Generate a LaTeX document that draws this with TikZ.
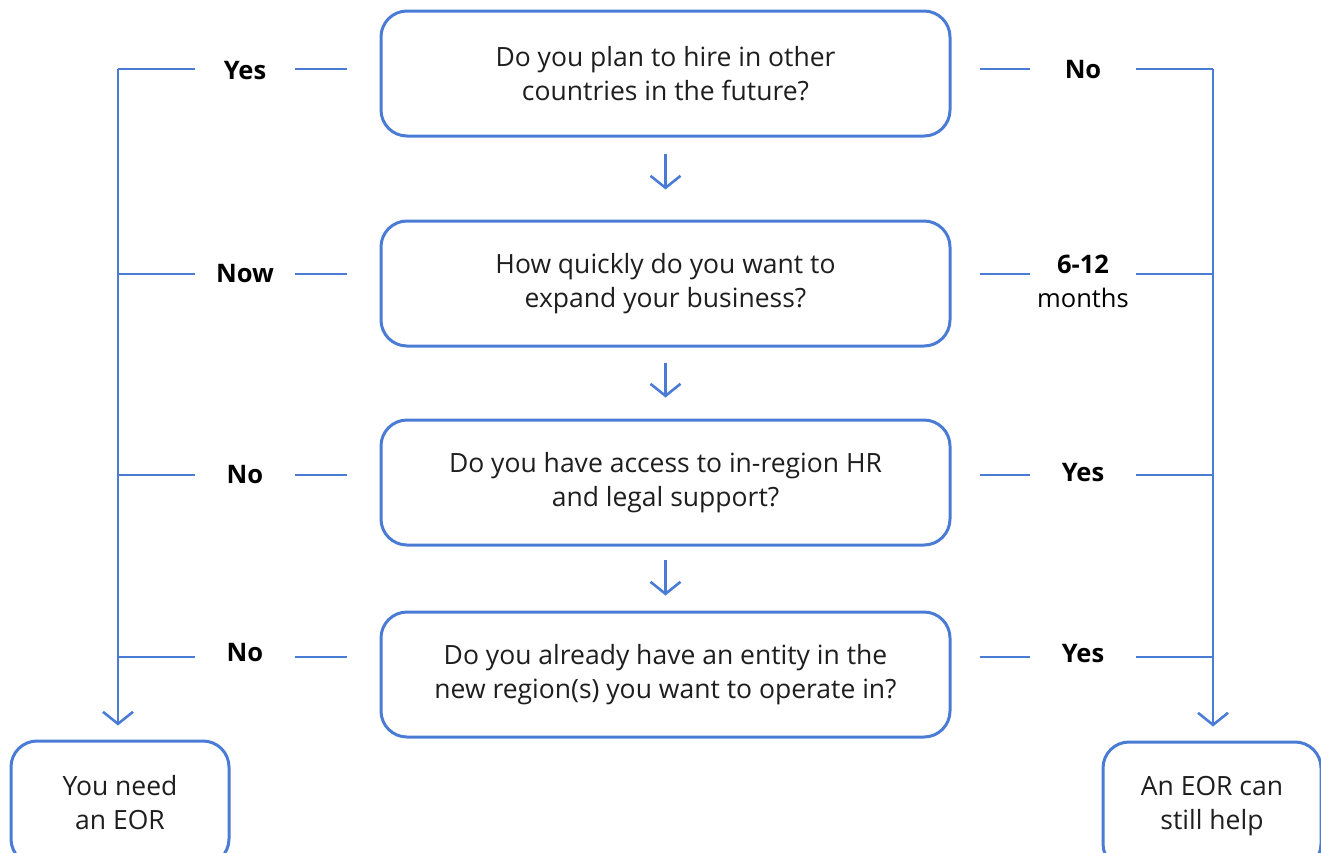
\documentclass[tikz,border=0pt]{standalone}
\usepackage{fontspec}
\setmainfont{Open Sans}
\usetikzlibrary{arrows.meta}
\definecolor{eorblue}{RGB}{74,124,214}
\definecolor{eortext}{RGB}{30,30,30}

\begin{document}
\begin{tikzpicture}[x=1pt, y=-1pt,
		box_style/.style={draw=eorblue, line width=3pt, rounded corners=26pt, fill=white, minimum width=569pt, minimum height=125pt, align=center, text=eortext, font=\fontsize{26.5}{34}\selectfont},
		end_style/.style={box_style, minimum width=218pt, minimum height=124pt},
		lab_style/.style={inner sep=0pt, minimum width=100pt, align=center, text=black, font=\fontsize{25.5}{34}\selectfont\bfseries},
		edge_style/.style={draw=eorblue, line width=2.6pt},
		arr_style/.style={edge_style, -{Straight Barb[length=12pt,width=30pt]}}]
		
		\useasboundingbox (0,0) rectangle (1321,852);
		\clip (0,0) rectangle (1321,852);
		
		\node[box_style] (q1) at (665.5,73.5)  {Do you plan to hire in other\\countries in the future?};
		\node[box_style] (q2) at (665.5,283.5) {How quickly do you want to\\expand your business?};
		\node[box_style] (q3) at (665.5,482.5) {Do you have access to in-region HR\\and legal support?};
		\node[box_style] (q4) at (665.5,674.5) {Do you already have an entity in the\\new region(s) you want to operate in?};
		\node[end_style] (need) at (120,803)  {You need\\an EOR};
		\node[end_style, minimum height=128pt] (help) at (1212,806) {An EOR can\\still help};
		
		% row coordinates
		\coordinate (lt1) at (118,69);
		\coordinate (lt2) at (118,274);
		\coordinate (lt3) at (118,475);
		\coordinate (lt4) at (118,657);
		\coordinate (rt1) at (1213,69);
		\coordinate (rt2) at (1213,274);
		\coordinate (rt3) at (1213,475);
		\coordinate (rt4) at (1213,657);
		
		\node[lab_style] (l1) at (245,71)  {Yes};
		\node[lab_style] (l2) at (245,274) {Now};
		\node[lab_style] (l3) at (245,475) {No};
		\node[lab_style] (l4) at (245,653) {No};
		\node[lab_style, minimum width=105pt] (r1) at (1083,70)  {No};
		\node[lab_style, minimum width=105pt] (r2) at (1083,281) {6-12\\\mdseries months};
		\node[lab_style, minimum width=105pt] (r3) at (1083,473) {Yes};
		\node[lab_style, minimum width=105pt] (r4) at (1083,654) {Yes};
		
		\draw[arr_style, shorten <=16pt, shorten >=30pt] (q1.south) -- (q2.north);
		\draw[arr_style, shorten <=15pt, shorten >=21pt] (q2.south) -- (q3.north);
		\draw[arr_style, shorten <=13pt, shorten >=15pt] (q3.south) -- (q4.north);
		
		\draw[edge_style] (lt1) -- (lt1 -| l1.west);
		\draw[edge_style] (lt2) -- (lt2 -| l2.west);
		\draw[edge_style] (lt3) -- (lt3 -| l3.west);
		\draw[edge_style] (lt4) -- (lt4 -| l4.west);
		\draw[edge_style, shorten >=33pt] (lt1 -| l1.east) -- (lt1 -| q1.west);
		\draw[edge_style, shorten >=33pt] (lt2 -| l2.east) -- (lt2 -| q2.west);
		\draw[edge_style, shorten >=33pt] (lt3 -| l3.east) -- (lt3 -| q3.west);
		\draw[edge_style, shorten >=33pt] (lt4 -| l4.east) -- (lt4 -| q4.west);
		
		\draw[edge_style, shorten <=28pt] (rt1 -| q1.east) -- (rt1 -| r1.west);
		\draw[edge_style, shorten <=28pt] (rt2 -| q2.east) -- (rt2 -| r2.west);
		\draw[edge_style, shorten <=28pt] (rt3 -| q3.east) -- (rt3 -| r3.west);
		\draw[edge_style, shorten <=28pt] (rt4 -| q4.east) -- (rt4 -| r4.west);
		\draw[edge_style] (rt1 -| r1.east) -- (rt1);
		\draw[edge_style] (rt2 -| r2.east) -- (rt2);
		\draw[edge_style] (rt3 -| r3.east) -- (rt3);
		\draw[edge_style] (rt4 -| r4.east) -- (rt4);
		
		\draw[arr_style, shorten >=14pt] (lt1) -- (lt1 |- need.north);
		\draw[arr_style, shorten >=14pt] (rt1) -- (rt1 |- help.north);
		
\end{tikzpicture}
\end{document}
